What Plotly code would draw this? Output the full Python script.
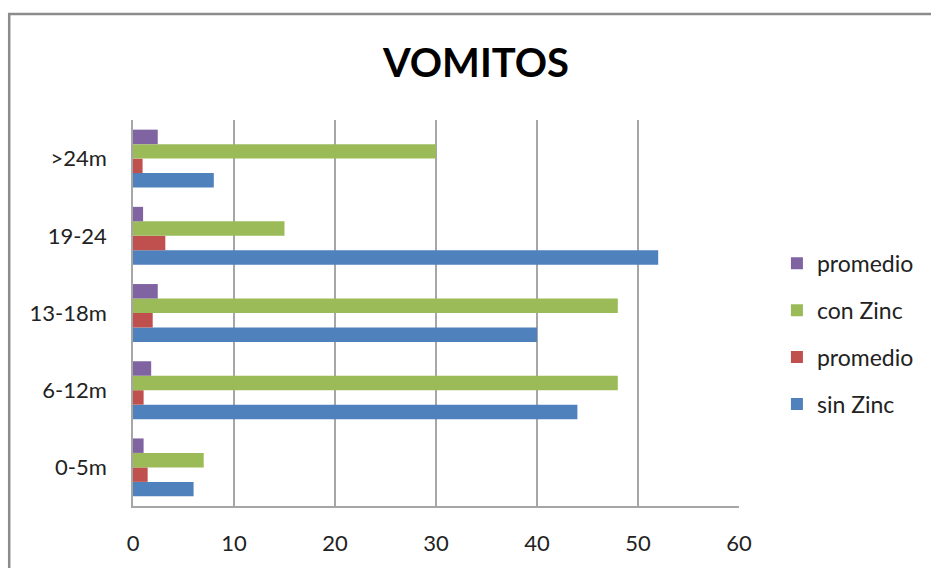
import plotly.graph_objects as go

categories = ["0-5m", "6-12m", "13-18m", "19-24", ">24m"]
sin_zinc = [6, 44, 40, 52, 8]
promedio_sin = [1.45, 1.05, 1.95, 3.2, 0.95]
con_zinc = [7, 48, 48, 15, 30]
promedio_con = [1.05, 1.8, 2.45, 1.0, 2.45]

series = [
    ("sin Zinc", sin_zinc, "#4F81BD"),
    ("promedio", promedio_sin, "#C0504D"),
    ("con Zinc", con_zinc, "#9BBB59"),
    ("promedio", promedio_con, "#8064A2"),
]

W, H = 931, 568
L, R, T, B = 133, 740, 120, 510

fig = go.Figure()
n = len(series)
for i, (name, vals, color) in enumerate(series):
    fig.add_trace(go.Bar(
        y=categories, x=vals, name=name, orientation="h",
        marker=dict(color=color, line=dict(width=0)),
        legendgroup=f"g{i}", legendrank=1000 + (n - i),
    ))

def px_x(p):
    return (p - L) / (R - L)

def px_y(p):
    return (B - p) / (B - T)

fig.update_layout(
    width=W, height=H,
    margin=dict(l=L, r=W - R, t=T, b=H - B),
    paper_bgcolor="white", plot_bgcolor="white",
    barmode="group", bargap=0.25, bargroupgap=0,
    font=dict(family="Lato, Open Sans, sans-serif", color="#222222"),
    title=dict(text="<b>VOMITOS</b>", x=476 / W, xanchor="center",
               y=1 - 63 / H, yanchor="middle", xref="container",
               yref="container", font=dict(size=40, color="#000000", family="Lato")),
    legend=dict(x=px_x(778), xanchor="left", y=px_y(336), yanchor="middle",
                traceorder="grouped", tracegroupgap=14,
                font=dict(size=23, color="#222222"), bgcolor="rgba(0,0,0,0)"),
    xaxis=dict(range=[0, 60], dtick=10, showgrid=True, gridcolor="#A6A6A6", gridwidth=1.5,
               showline=True, linecolor="#A6A6A6", linewidth=1.5, zeroline=False,
               ticks="", tickfont=dict(size=22, color="#222222"), ticklabelstandoff=17,
               fixedrange=True),
    yaxis=dict(showgrid=False, showline=True, linecolor="#A6A6A6", linewidth=1.5,
               ticks="", tickfont=dict(size=22, color="#222222"), ticklabelstandoff=20,
               categoryorder="array", categoryarray=categories),
    shapes=[dict(type="rect", xref="paper", yref="paper",
                 x0=px_x(9), x1=px_x(945), y0=px_y(585), y1=px_y(13),
                 line=dict(color="#8C8C8C", width=2.5), fillcolor="rgba(0,0,0,0)",
                 layer="below")],
)

fig.write_html("out.html")
